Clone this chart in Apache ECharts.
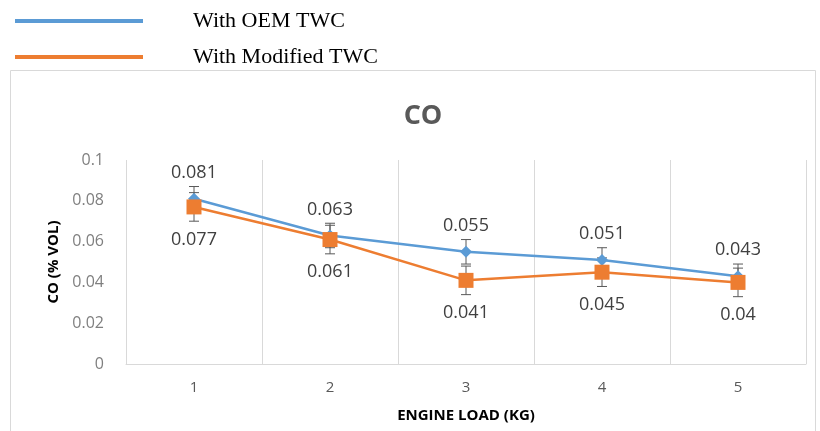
<!DOCTYPE html>
<html><head><meta charset="utf-8">
<script src="https://cdn.jsdelivr.net/npm/echarts@6/dist/echarts.min.js"></script>
<style>html,body{margin:0;padding:0;background:#fff}#c{width:820px;height:431px}</style>
</head><body><div id="c"></div>
<script>
const categories = ['1','2','3','4','5'];
const oemValues = [0.081, 0.063, 0.055, 0.051, 0.043];
const modValues = [0.077, 0.061, 0.041, 0.045, 0.040];
const oemErrors = [0.006, 0.006, 0.006, 0.006, 0.006];
const modErrors = [0.007, 0.007, 0.007, 0.007, 0.007];
const yTicks = [0, 0.02, 0.04, 0.06, 0.08, 0.1];

const BLUE = '#5B9BD5', ORANGE = '#ED7D31';

function errSeries(values, errs) {
  return {
    type: 'custom', silent: true, z: 1,
    data: values.map((v, i) => [i, v - errs[i], v + errs[i]]),
    renderItem: function (params, api) {
      const lo = api.coord([api.value(0), api.value(1)]);
      const hi = api.coord([api.value(0), api.value(2)]);
      const w = 5;
      const st = {stroke: '#595959', lineWidth: 1};
      return {type: 'group', children: [
        {type: 'line', shape: {x1: lo[0], y1: lo[1], x2: hi[0], y2: hi[1]}, style: st},
        {type: 'line', shape: {x1: lo[0]-w, y1: lo[1], x2: lo[0]+w, y2: lo[1]}, style: st},
        {type: 'line', shape: {x1: hi[0]-w, y1: hi[1], x2: hi[0]+w, y2: hi[1]}, style: st}
      ]};
    }
  };
}

const chart = echarts.init(document.getElementById('c'));
chart.setOption({
  animation: false,
  title: {text: 'CO', left: 418, top: 98, textAlign: 'center',
    textStyle: {fontFamily: 'Open Sans', fontWeight: 'bold', fontSize: 27, color: '#595959'}},
  legend: {orient: 'vertical', left: 15, top: 10, padding: 0, itemWidth: 128, itemHeight: 4, itemGap: 14,
    icon: 'rect',
    textStyle: {fontFamily: 'Liberation Serif', fontSize: 22, color: '#000', padding: [0,0,0,45]},
    data: [{name: 'With OEM TWC'}, {name: 'With Modified TWC'}]},
  graphic: [{type: 'rect', shape: {x: 10.5, y: 70.5, width: 805, height: 370},
    style: {fill: 'none', stroke: '#d9d9d9', lineWidth: 1}, silent: true}],
  grid: {left: 126, right: 14, top: 160, bottom: 67},
  xAxis: {type: 'category', data: categories, boundaryGap: true,
    name: 'ENGINE LOAD (KG)', nameLocation: 'middle', nameGap: 44,
    nameTextStyle: {fontFamily: 'Open Sans', fontWeight: 'bold', fontSize: 15, color: '#000'},
    axisLine: {lineStyle: {color: '#d9d9d9'}}, axisTick: {show: false},
    axisLabel: {color: '#595959', fontSize: 15, fontFamily: 'Open Sans', margin: 16},
    splitLine: {show: true, lineStyle: {color: '#d9d9d9'}}},
  yAxis: {type: 'value', min: 0, max: 0.1, interval: 0.02,
    name: 'CO (% VOL)', nameLocation: 'middle', nameGap: 60, nameRotate: 90,
    nameTextStyle: {fontFamily: 'Open Sans', fontWeight: 'bold', fontSize: 15, color: '#000'},
    axisLine: {show: false}, axisTick: {show: false}, splitLine: {show: false},
    axisLabel: {color: '#7f7f7f', fontSize: 16, fontFamily: 'Open Sans', margin: 22,
      formatter: v => yTicks.includes(+v.toFixed(2)) ? String(+v.toFixed(2)) : ''}},
  series: [
    errSeries(oemValues, oemErrors),
    errSeries(modValues, modErrors),
    {name: 'With OEM TWC', type: 'line', data: oemValues, z: 3,
      symbol: 'diamond', symbolSize: 12, color: BLUE,
      lineStyle: {color: BLUE, width: 2.5}, itemStyle: {color: BLUE},
      label: {show: true, position: 'top', distance: 11, fontSize: 18, color: '#404040', fontFamily: 'Open Sans'}},
    {name: 'With Modified TWC', type: 'line', data: modValues, z: 4,
      symbol: 'rect', symbolSize: 15, color: ORANGE,
      lineStyle: {color: ORANGE, width: 2.5}, itemStyle: {color: ORANGE},
      label: {show: true, position: 'bottom', distance: 16, fontSize: 18, color: '#404040', fontFamily: 'Open Sans'}}
  ]
});
</script></body></html>
